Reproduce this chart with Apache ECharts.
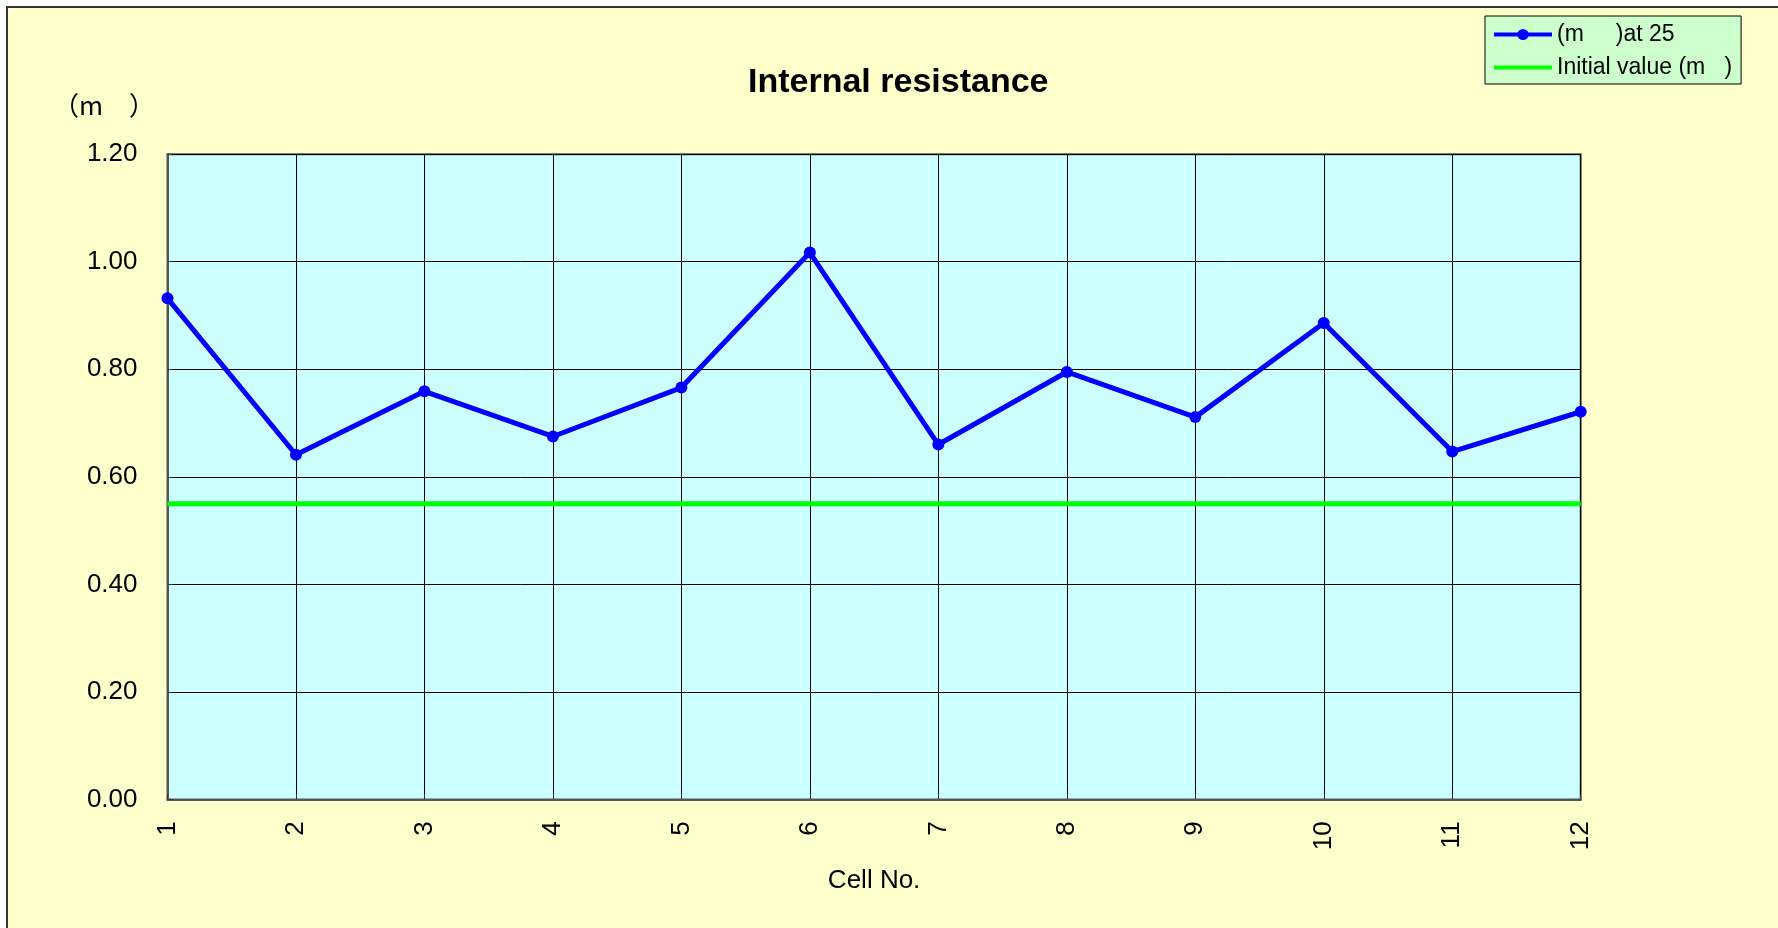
<!DOCTYPE html>
<html>
<head>
<meta charset="utf-8">
<script src="https://cdn.jsdelivr.net/npm/echarts@6/dist/echarts.min.js"></script>
<style>
html,body{margin:0;padding:0;background:#ffffff;}
#chart{width:1778px;height:928px;}
</style>
</head>
<body>
<div id="chart"></div>
<script>
const cells = ['1','2','3','4','5','6','7','8','9','10','11','12'];
const resistance = [0.932, 0.641, 0.759, 0.675, 0.766, 1.017, 0.660, 0.795, 0.711, 0.886, 0.647, 0.721];
const initialValue = [0.55, 0.55, 0.55, 0.55, 0.55, 0.55, 0.55, 0.55, 0.55, 0.55, 0.55, 0.55];
const seriesNames = ['(m     )at 25', 'Initial value (m   )'];
const titleText = 'Internal resistance';
const yUnitText = '（m　）';
const xAxisTitle = 'Cell No.';

const FONT = 'Liberation Sans, Arial, sans-serif';
const chart = echarts.init(document.getElementById('chart'), null, {renderer:'canvas'});
chart.setOption({
  animation: false,
  backgroundColor: '#ffffff',
  graphic: [
    {type:'rect', z:-100, silent:true, shape:{x:7, y:7, width:1900, height:1000}, style:{fill:'#FFFFCC', stroke:'#333333', lineWidth:2}},
    {type:'text', z:10, style:{text: yUnitText, x:104, y:105, textAlign:'center', textVerticalAlign:'middle', font:'26px "Noto Sans CJK JP", sans-serif', fill:'#000'}}
  ],
  title: {
    text: titleText, left: 748, top: 66, padding: 0,
    textStyle: {fontFamily: FONT, fontSize: 34, fontWeight: 'bold', color: '#000'}
  },
  legend: {
    orient: 'vertical', left: 1485, top: 16,
    backgroundColor: '#CCFFCC', borderColor: '#000', borderWidth: 1, borderRadius: 0,
    padding: [7, 9, 5, 7], itemWidth: 58, itemHeight: 14, itemGap: 10,
    lineStyle: {width: 4},
    textStyle: {fontFamily: FONT, fontSize: 23, color: '#000'},
    data: [
      {name: seriesNames[0]},
      {name: seriesNames[1], itemStyle: {opacity: 0}}
    ]
  },
  grid: {
    left: 167.5, right: 197.3, top: 154.2, bottom: 128.6,
    show: true, backgroundColor: '#CCFFFF', borderColor: '#555', borderWidth: 2
  },
  xAxis: {
    type: 'category', data: cells, boundaryGap: false,
    name: xAxisTitle, nameLocation: 'middle', nameGap: 68,
    nameTextStyle: {fontFamily: FONT, fontSize: 26, color: '#000'},
    axisLine: {lineStyle: {color: '#555', width: 2}},
    axisTick: {inside: true, length: 5, lineStyle: {color: '#333'}},
    axisLabel: {rotate: 90, margin: 22, fontFamily: FONT, fontSize: 26, color: '#000'},
    splitLine: {show: true, lineStyle: {color: '#000', width: 1}}
  },
  yAxis: {
    type: 'value', min: 0, max: 1.2, interval: 0.2,
    axisLine: {show: true, lineStyle: {color: '#555', width: 2}},
    axisTick: {show: true, inside: true, length: 5, lineStyle: {color: '#333'}},
    axisLabel: {margin: 30, fontFamily: FONT, fontSize: 26, color: '#000', formatter: v => v.toFixed(2)},
    splitLine: {show: true, lineStyle: {color: '#000', width: 1}}
  },
  series: [
    {
      name: seriesNames[0], type: 'line', data: resistance,
      symbol: 'circle', symbolSize: 12,
      lineStyle: {color: '#0000FF', width: 5},
      itemStyle: {color: '#0000FF'}, z: 4
    },
    {
      name: seriesNames[1], type: 'line', data: initialValue,
      symbol: 'none', showSymbol: false,
      lineStyle: {color: '#00FF00', width: 5},
      itemStyle: {color: '#00FF00'}, z: 3
    }
  ]
});
</script>
</body>
</html>
